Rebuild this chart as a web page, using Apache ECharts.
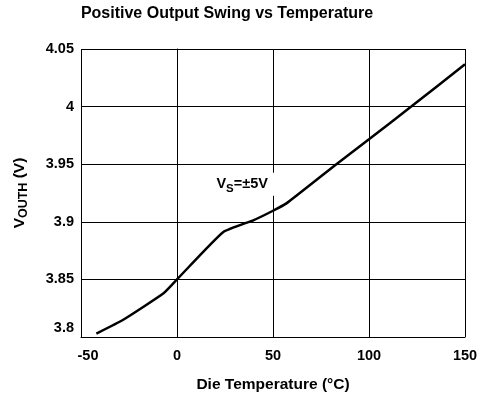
<!DOCTYPE html>
<html>
<head>
<meta charset="utf-8">
<script src="https://cdn.jsdelivr.net/npm/echarts@6/dist/echarts.min.js"></script>
<style>
  html, body { margin: 0; padding: 0; background: #fff; }
  #chart { width: 481px; height: 400px; }
</style>
</head>
<body>
<div id="chart"></div>
<script>
// Die temperature (°C) and positive output swing (V), Vs = ±5V
const temperature = [-42, -28, -7, 0, 24, 40, 50, 57, 83, 100, 122, 150];
const voutHigh = [3.803, 3.815, 3.838, 3.85, 3.891, 3.9015, 3.9096, 3.916, 3.95, 3.9716, 4.0, 4.0367];

const xTicks = { min: -50, max: 150, interval: 50 };
const yTicks = { min: 3.8, max: 4.05, interval: 0.05 };

const curveLabelAt = [35, 3.9325];

const FONT = '"Liberation Sans", Arial, sans-serif';
const chart = echarts.init(document.getElementById('chart'), null, { renderer: 'canvas' });

chart.setOption({
  animation: false,
  title: {
    text: 'Positive Output Swing vs Temperature',
    left: 222, textAlign: 'center', top: 1,
    textStyle: { fontFamily: FONT, fontWeight: 'bold', fontSize: 16, color: '#000' }
  },
  grid: { left: 81, right: 16, top: 49, bottom: 63, outerBoundsMode: 'none', containLabel: false },
  xAxis: {
    type: 'value', min: xTicks.min, max: xTicks.max, interval: xTicks.interval,
    name: 'Die Temperature (°C)', nameLocation: 'middle', nameGap: 40,
    nameTextStyle: { fontFamily: FONT, fontWeight: 'bold', fontSize: 15.5, color: '#000' },
    axisLine: { lineStyle: { color: '#000', width: 1 } },
    axisTick: { show: false },
    splitLine: { show: true, lineStyle: { color: '#000', width: 1 } },
    axisLabel: {
      margin: 11, fontFamily: FONT, fontWeight: 'bold', fontSize: 14.5, color: '#000',
      formatter: v => v === xTicks.min ? '{first|' + v + '}' : String(v),
      rich: { first: { padding: [0, 0, 0, 14], fontFamily: FONT, fontWeight: 'bold', fontSize: 14.5, color: '#000' } }
    }
  },
  yAxis: {
    type: 'value', min: yTicks.min, max: yTicks.max, interval: yTicks.interval,
    name: '{v|V}{s|OUTH}{v| (V)}', nameLocation: 'middle', nameGap: 53, nameRotate: 90,
    nameTextStyle: {
      rich: {
        v: { fontFamily: FONT, fontWeight: 'bold', fontSize: 15.5, color: '#000', verticalAlign: 'bottom' },
        s: { fontFamily: FONT, fontWeight: 'bold', fontSize: 12.5, color: '#000', verticalAlign: 'bottom', padding: [0, 0, -2, 0] }
      }
    },
    axisLine: { show: true, lineStyle: { color: '#000', width: 1 } },
    axisTick: { show: false },
    splitLine: { show: true, lineStyle: { color: '#000', width: 1 } },
    axisLabel: {
      margin: 7, fontFamily: FONT, fontWeight: 'bold', fontSize: 14.5, color: '#000',
      formatter: v => {
        const s = String(Math.round(v * 100) / 100);
        return Math.abs(v - yTicks.min) < 1e-9 ? '{first|' + s + '}' : s;
      },
      rich: { first: { padding: [0, 0, 18, 0], fontFamily: FONT, fontWeight: 'bold', fontSize: 14.5, color: '#000' } }
    }
  },
  series: [{
    type: 'line',
    data: temperature.map((t, i) => [t, voutHigh[i]]),
    smooth: 0.15,
    showSymbol: false,
    lineStyle: { color: '#000', width: 2.5 },
    markPoint: {
      symbol: 'rect', symbolSize: 0,
      data: [{ coord: curveLabelAt }],
      label: {
        show: true, position: 'inside',
        formatter: '{v|V}{s|S}{v|=±5V}',
        backgroundColor: '#fff', padding: [4, 8, 4, 4],
        rich: {
          v: { fontFamily: FONT, fontWeight: 'bold', fontSize: 14.5, color: '#000', verticalAlign: 'bottom' },
          s: { fontFamily: FONT, fontWeight: 'bold', fontSize: 11.5, color: '#000', verticalAlign: 'bottom', padding: [0, 0, -3, 0] }
        }
      }
    }
  }]
});
</script>
</body>
</html>
